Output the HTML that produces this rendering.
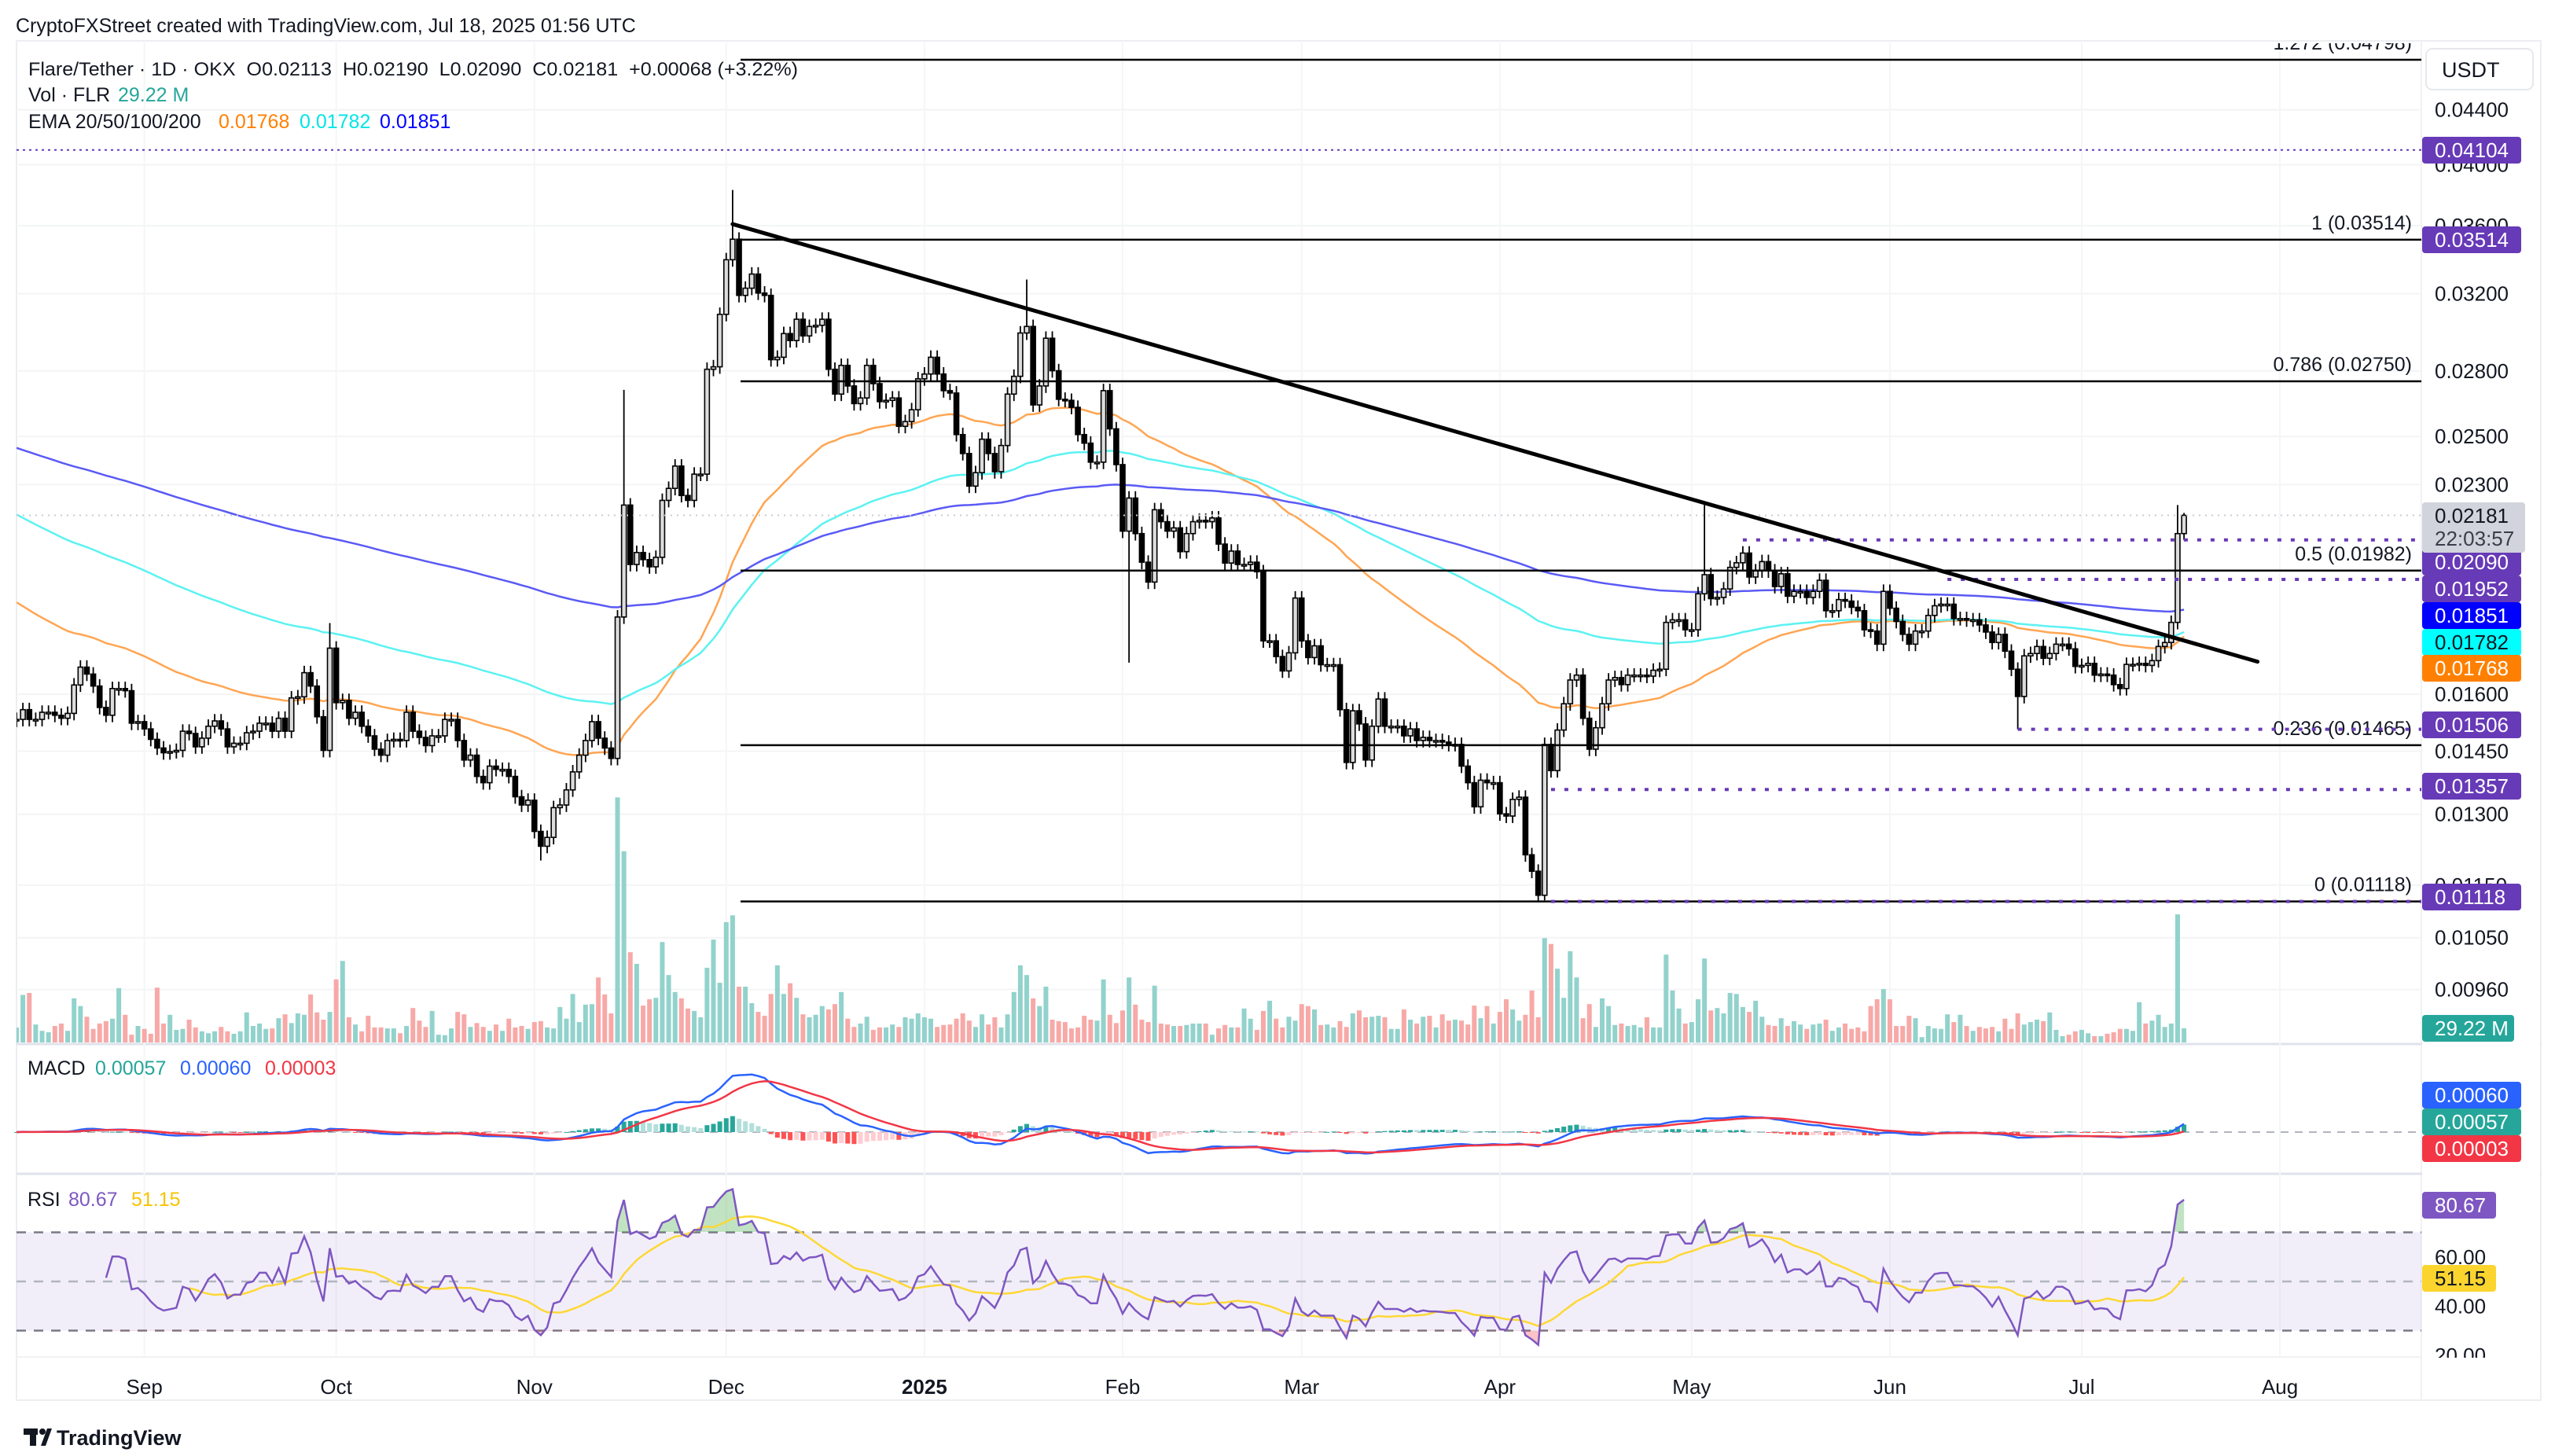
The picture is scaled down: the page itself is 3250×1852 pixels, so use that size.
<!DOCTYPE html>
<html><head><meta charset="utf-8"><title>Flare/Tether 1D chart</title>
<style>
html,body{margin:0;padding:0;background:#fff;}
svg{display:block;font-family:"Liberation Sans",sans-serif;}
</style></head>
<body>
<svg id="chart" width="3250" height="1852" viewBox="0 0 3250 1852" xmlns="http://www.w3.org/2000/svg">
<defs>
<clipPath id="mainClip"><rect x="21" y="55" width="3059" height="1271"/></clipPath>
<clipPath id="rsiClip"><rect x="21" y="1494" width="3059" height="231"/></clipPath>
<clipPath id="obClip"><rect x="21" y="1494" width="3059" height="73"/></clipPath>
<clipPath id="osClip"><rect x="21" y="1692" width="3059" height="40"/></clipPath>
</defs>
<rect x="0" y="0" width="3250" height="1852" fill="#fff"/>
<text x="20" y="41" font-size="25" fill="#131722">CryptoFXStreet created with TradingView.com, Jul 18, 2025 01:56 UTC</text>
<rect x="21" y="52" width="3211" height="1729" fill="none" stroke="#eceef2" stroke-width="2"/>
<line x1="3080" y1="52" x2="3080" y2="1781" stroke="#f0f1f4" stroke-width="2"/>
<line x1="21" y1="1726" x2="3232" y2="1726" stroke="#f0f1f4" stroke-width="2"/>
<line x1="21" y1="1328" x2="3232" y2="1328" stroke="#e0e3eb" stroke-width="3"/>
<line x1="21" y1="1493" x2="3232" y2="1493" stroke="#e0e3eb" stroke-width="3"/>
<g id="grid"></g>
<g id="rsiBg"></g>
<g id="main" clip-path="url(#mainClip)"></g>
<g id="macd"></g>
<g id="rsi"></g>
<g id="axis"></g>
<g id="legend">
<text x="36" y="96" font-size="24" fill="#131722" xml:space="preserve" textLength="979" lengthAdjust="spacingAndGlyphs">Flare/Tether · 1D · OKX  O0.02113  H0.02190  L0.02090  C0.02181  +0.00068 (+3.22%)</text>
<text x="36" y="129" font-size="25" fill="#131722">Vol · FLR</text>
<text x="150" y="129" font-size="25" fill="#26a69a">29.22 M</text>
<text x="36" y="163" font-size="25" fill="#131722">EMA 20/50/100/200</text>
<text x="278" y="163" font-size="25" fill="#ff8000">0.01768</text>
<text x="381" y="163" font-size="25" fill="#00e5e5">0.01782</text>
<text x="483" y="163" font-size="25" fill="#0000ff">0.01851</text>
<text x="35" y="1367" font-size="25" fill="#131722">MACD</text>
<text x="121" y="1367" font-size="25" fill="#26a69a">0.00057</text>
<text x="229" y="1367" font-size="25" fill="#2962ff">0.00060</text>
<text x="337" y="1367" font-size="25" fill="#f23645">0.00003</text>
<text x="35" y="1534" font-size="25" fill="#131722">RSI</text>
<text x="87" y="1534" font-size="25" fill="#7e57c2">80.67</text>
<text x="167" y="1534" font-size="25" fill="#f5c400">51.15</text>
</g>
<g id="footer">
<rect x="30" y="1817" width="18" height="8" fill="#131722"/>
<rect x="38" y="1817" width="8" height="22" fill="#131722"/>
<circle cx="54" cy="1821" r="4" fill="#131722"/>
<polygon points="52,1839 60,1817 66,1817 58,1839" fill="#131722"/>
<text x="72" y="1838" font-size="27" font-weight="bold" fill="#131722">TradingView</text>
</g>
</svg>
<script>
const closes=[0.01532,0.01558,0.01532,0.01532,0.01551,0.01551,0.01543,0.01535,0.01548,0.01626,
0.01677,0.01657,0.01623,0.01564,0.01543,0.01616,0.01616,0.0161,0.01522,0.01526,
0.01507,0.0148,0.01458,0.01446,0.01449,0.01452,0.01501,0.01495,0.01461,0.01483,
0.01514,0.01528,0.01507,0.01461,0.0147,0.0147,0.01497,0.01501,0.01522,0.01522,
0.01501,0.01535,0.01501,0.0159,0.01593,0.01661,0.01623,0.01539,0.01452,0.01733,
0.01577,0.01583,0.01535,0.01551,0.01514,0.01489,0.01455,0.0144,0.01477,0.0148,
0.01477,0.01551,0.01501,0.01485,0.01464,0.01489,0.01489,0.01532,0.01532,0.01477,
0.01428,0.0144,0.01388,0.01373,0.01413,0.01405,0.01405,0.01388,0.0134,0.01321,
0.01332,0.01262,0.0123,0.01249,0.01315,0.01321,0.01356,0.01399,0.0144,0.01477,
0.01526,0.01483,0.01458,0.01432,0.01829,0.0222,0.02003,0.02045,0.0202,0.01995,
0.02028,0.02238,0.02285,0.02375,0.02257,0.02238,0.02342,0.02342,0.02808,0.0282,
0.03088,0.03394,0.03517,0.03191,0.03231,0.03311,0.03204,0.03191,0.02855,0.02867,
0.02987,0.02951,0.03062,0.02975,0.03024,0.0303,0.03062,0.02808,0.0269,0.02827,
0.02728,0.02646,0.02672,0.02827,0.02739,0.02655,0.02661,0.02672,0.02544,0.02565,
0.02618,0.02762,0.02785,0.02867,0.02785,0.02706,0.02695,0.02508,0.02427,0.02294,
0.02348,0.02488,0.02427,0.02352,0.02461,0.0269,0.02774,0.0299,0.03024,0.0264,
0.02728,0.02963,0.02801,0.02666,0.02661,0.02629,0.02508,0.02471,0.02391,0.02391,
0.02706,0.02533,0.02381,0.02122,0.02247,0.02113,0.02011,0.01943,0.02202,0.02157,
0.02122,0.02134,0.02048,0.02113,0.02157,0.02162,0.02157,0.02171,0.02075,0.02008,
0.0205,0.02003,0.02003,0.02011,0.01978,0.01755,0.01755,0.01708,0.01666,0.01719,
0.0189,0.01755,0.01705,0.0174,0.01684,0.01684,0.01684,0.01558,0.01422,0.01555,
0.0152,0.01428,0.01514,0.01587,0.01514,0.01514,0.01514,0.01489,0.01507,0.01477,
0.01485,0.01477,0.01477,0.01473,0.01467,0.01467,0.01413,0.01373,0.01317,0.01379,
0.01373,0.01373,0.01301,0.01296,0.01334,0.01339,0.01212,0.01178,0.0113,0.01467,
0.01402,0.01504,0.01574,0.0164,0.01654,0.01535,0.01455,0.0151,0.01574,0.0164,
0.01647,0.01627,0.01654,0.01654,0.01654,0.01651,0.01668,0.01671,0.01812,0.0182,
0.0182,0.01789,0.01789,0.01904,0.01968,0.01888,0.01892,0.0192,0.01993,0.02009,
0.02043,0.0196,0.01981,0.02013,0.01981,0.01928,0.01971,0.01896,0.01912,0.01912,
0.01892,0.01912,0.01949,0.01849,0.01849,0.01885,0.0188,0.0186,0.01849,0.01789,
0.01785,0.01745,0.01912,0.01857,0.01815,0.01775,0.01745,0.01785,0.01785,0.01834,
0.01865,0.0187,0.0187,0.01824,0.01824,0.0182,0.0182,0.01804,0.01782,0.0175,
0.01775,0.01724,0.01671,0.01594,0.0171,0.01717,0.01738,0.01703,0.01717,0.01745,
0.01745,0.01731,0.01679,0.01682,0.01688,0.01654,0.01657,0.01654,0.01627,0.01616,
0.01685,0.01685,0.01688,0.01682,0.01696,0.01738,0.0175,0.01812,0.02113,0.02181];
const firstOpen=0.0153;
const volumes=[30.8,98,102,37,24,21,34,39,24,91,
75,53,28,39,44,49,112,57,16,34,
28,18,113,39,57,26,28,47,31,23,
19,23,32,23,18,23,62,34,39,28,
29,50,58,40,60,57,99,62,47,63,
130,168,52,37,23,55,31,31,29,29,
19,34,71,45,32,65,16,15,29,63,
58,32,40,32,24,37,24,49,31,34,
28,42,44,31,29,73,49,100,42,78,
79,134,99,60,505,394,186,162,76,89,
92,207,139,104,91,70,65,52,154,212,
123,248,262,115,115,81,63,55,100,159,
100,122,92,58,52,57,75,68,79,104,
49,32,39,53,26,31,31,37,32,52,
49,60,52,49,32,36,37,49,60,45,
32,58,37,52,31,58,104,159,139,91,
75,115,47,44,42,29,31,55,47,45,
130,57,
40,66,134,78,47,42,117,39,37,34,
34,36,39,39,39,16,29,36,31,31,
70,49,26,65,86,49,31,53,45,79,
75,68,36,37,31,44,32,60,66,52,
53,55,52,28,28,68,47,39,53,55,
31,58,45,47,45,37,76,50,75,39,
63,89,68,45,57,107,52,215,203,152,
92,188,134,50,79,32,91,75,36,39,
34,36,31,52,31,31,181,107,70,39,
42,89,173,66,71,60,102,100,73,63,
86,53,36,34,50,34,44,37,28,37,
39,47,24,31,39,28,31,23,75,89,
110,89,34,34,55,50,11,34,29,28,
58,42,57,34,24,32,29,32,23,49,
28,60,37,42,47,44,62,26,13,16,
23,26,19,13,13,18,21,28,28,24,
83,39,45,57,32,39,264,29.22];
const highIdx=[49,95,112,158,264,338,339];
const highVal=[0.0181,0.0271,0.0383,0.0328,0.0222,0.0222,0.0219];
const lowIdx=[82,174,238,239,313,339];
const lowVal=[0.0120,0.0169,0.01118,0.0112,0.01506,0.0209];
const emaSeeds=[0.0189,0.02197,0.0246];
const fibLevels=[1.272,1,0.786,0.5,0.236,0];
const fibPrices=[0.04798,0.03514,0.0275,0.01982,0.01465,0.01118];
const dottedPrices=[0.04104,0.0209,0.01952,0.01506,0.01357,0.01118];
const dottedStart=[0,270,302,313,240,240];
const trendIdx=[112,350.5];
const trendPrice=[0.0361,0.01693];
const priceTicks=[0.044,0.04,0.036,0.032,0.028,0.025,0.023,0.016,0.0145,0.013,0.0115,0.0105,0.0096];
const monthLabels=["Sep","Oct","Nov","Dec","2025","Feb","Mar","Apr","May","Jun","Jul","Aug"];
const monthIdx=[20,50,81,111,142,173,201,232,262,293,323,354];
const rsiTicks=[60,40,20];

const NS="http://www.w3.org/2000/svg";
const X0=21,STEP=8.133;
function xOf(i){return X0+i*STEP;}
function yP(p){return 139.6+Math.log(0.044/p)*735;}
function yVol(v){return 1326-v/1.62;}
function yMacd(v){return 1440-v*17000;}
function yRsi(v){return 1630-(v-50)*3.125;}
function mk(tag,attrs,parent){const e=document.createElementNS(NS,tag);for(const k in attrs)e.setAttribute(k,attrs[k]);parent.appendChild(e);return e;}

const main=document.getElementById('main');
const grid=document.getElementById('grid');
const axis=document.getElementById('axis');
const macdG=document.getElementById('macd');
const rsiG=document.getElementById('rsi');
const rsiBg=document.getElementById('rsiBg');
const n=closes.length;

for(const t of priceTicks){
  const g=mk('line',{x1:21,x2:3080,y1:yP(t),y2:yP(t),stroke:'#f3f4f6','stroke-width':2},grid);
  
  
}
for(let k=0;k<monthIdx.length;k++){
  const x=xOf(monthIdx[k]);
  if(x>3080)continue;
  const g=mk('line',{x1:x,x2:x,y1:52,y2:1726,stroke:'#f5f6f8','stroke-width':2},grid);
  
  
}

const opens=[],highs=[],lows=[];
for(let i=0;i<n;i++){
  const o=i===0?firstOpen:closes[i-1];
  opens.push(o);
  highs.push(Math.max(o,closes[i])*1.012);
  lows.push(Math.min(o,closes[i])*0.988);
}
for(let k=0;k<highIdx.length;k++)highs[highIdx[k]]=highVal[k];
for(let k=0;k<lowIdx.length;k++)lows[lowIdx[k]]=lowVal[k];

for(let i=0;i<n;i++){
  const up=closes[i]>=opens[i];
  const y=yVol(volumes[i]);
  const b=mk('rect',{x:xOf(i)-3,y:y,width:6,height:1326-y,fill:up?'#92d2cc':'#f7a9a7'},main);
  
  
}

function ema(period,seed){const k=2/(period+1);let e=seed;const out=[];for(let i=0;i<n;i++){e=closes[i]*k+e*(1-k);out.push(e);}return out;}
const emaDefs=[[50,emaSeeds[0],'#ffa552','ema-50-line'],[100,emaSeeds[1],'#5cf2f2','ema-100-line'],[200,emaSeeds[2],'#5a5af5','ema-200-line']];
for(const d of emaDefs){
  const v=ema(d[0],d[1]);
  const pts=v.map((p,i)=>xOf(i).toFixed(1)+','+yP(p).toFixed(1)).join(' ');
  const l=mk('polyline',{points:pts,fill:'none',stroke:d[2],'stroke-width':2.5},main);
  
  
}

for(let i=0;i<n;i++){
  const x=xOf(i),o=opens[i],c=closes[i],up=c>=o;
  const g=mk('g',{},main);
  
  
  mk('line',{x1:x,x2:x,y1:yP(highs[i]),y2:yP(lows[i]),stroke:'#000','stroke-width':1.8},g);
  const t=yP(Math.max(o,c)),b=yP(Math.min(o,c));
  mk('rect',{x:x-3,y:t,width:6,height:Math.max(b-t,2),fill:up?'#dcdcdc':'#000',stroke:'#000','stroke-width':1.6},g);
}

const cp=mk('line',{x1:21,x2:3080,y1:yP(closes[n-1]),y2:yP(closes[n-1]),stroke:'#c8cbd3','stroke-width':2,'stroke-dasharray':'2 6'},main);



for(let k=0;k<fibLevels.length;k++){
  const y=yP(fibPrices[k]);
  const l=mk('line',{x1:942,x2:3080,y1:y,y2:y,stroke:'#000','stroke-width':2.5},main);
  
  
  const t=mk('text',{x:3068,y:y-13,'font-size':25,'text-anchor':'end',fill:'#131722'},main);
  
  
  t.textContent=fibLevels[k]+' ('+fibPrices[k].toFixed(5)+')';
}

for(let k=0;k<dottedPrices.length;k++){
  const y=yP(dottedPrices[k]);
  const x1=dottedStart[k]===0?21:xOf(dottedStart[k]);
  const l=mk('line',{x1:x1,x2:3080,y1:y,y2:y,stroke:'#673ab7','stroke-width':dottedStart[k]===0?2:4,'stroke-dasharray':dottedStart[k]===0?'3 5':'5 12'},main);
  
  
}

const tl=mk('line',{x1:xOf(trendIdx[0]),y1:yP(trendPrice[0]),x2:xOf(trendIdx[1]),y2:yP(trendPrice[1]),stroke:'#000','stroke-width':5,'stroke-linecap':'round'},main);



function emaArr(arr,period,seed){const k=2/(period+1);let e=seed;return arr.map(v=>{e=v*k+e*(1-k);return e;});}
const e12=emaArr(closes,12,closes[0]),e26=emaArr(closes,26,closes[0]);
const macd=e12.map((v,i)=>v-e26[i]);
const sig=emaArr(macd,9,0);
const zl=mk('line',{x1:21,x2:3080,y1:1440,y2:1440,stroke:'#b2b5be','stroke-width':2,'stroke-dasharray':'10 8'},macdG);


for(let i=0;i<n;i++){
  const h=macd[i]-sig[i],ph=i?macd[i-1]-sig[i-1]:0;
  const col=h>=0?(h>=ph?'#26a69a':'#b2dfdb'):(h<ph?'#ff5252':'#ffcdd2');
  const y=yMacd(h);
  const r=mk('rect',{x:xOf(i)-3,y:Math.min(y,1440),width:6,height:Math.max(Math.abs(y-1440),1),fill:col},macdG);
  
  
}
const ml=mk('polyline',{points:macd.map((v,i)=>xOf(i).toFixed(1)+','+yMacd(v).toFixed(1)).join(' '),fill:'none',stroke:'#2962ff','stroke-width':2.5},macdG);


const sl=mk('polyline',{points:sig.map((v,i)=>xOf(i).toFixed(1)+','+yMacd(v).toFixed(1)).join(' '),fill:'none',stroke:'#f23645','stroke-width':2.5},macdG);



const band=mk('rect',{x:21,y:yRsi(70),width:3059,height:yRsi(30)-yRsi(70),fill:'rgba(126,87,194,0.1)'},rsiBg);


for(const lv of [70,50,30]){
  const l=mk('line',{x1:21,x2:3080,y1:yRsi(lv),y2:yRsi(lv),stroke:lv===50?'#b2b5be':'#787b86','stroke-width':2.5,'stroke-dasharray':'12 10'},rsiBg);
  
  
}
const rsi=[];let ag=0,al=0;
for(let i=1;i<n;i++){
  const d=closes[i]-closes[i-1];const g=Math.max(d,0),l=Math.max(-d,0);
  if(i<=14){ag+=g/14;al+=l/14;if(i<14){rsi[i]=null;continue;}}
  else{ag=(ag*13+g)/14;al=(al*13+l)/14;}
  rsi[i]=al===0?100:100-100/(1+ag/al);
}
const rsiMa=[];
for(let i=0;i<n;i++){let s=0,c=0;for(let j=Math.max(0,i-13);j<=i;j++){if(rsi[j]!=null){s+=rsi[j];c++;}}rsiMa.push(c===14?s/c:null);}
const rpts=[];for(let i=0;i<n;i++)if(rsi[i]!=null)rpts.push([xOf(i),yRsi(rsi[i])]);
const areaD='M'+rpts[0][0]+','+yRsi(70)+' '+rpts.map(p=>'L'+p[0].toFixed(1)+','+p[1].toFixed(1)).join(' ')+' L'+rpts[rpts.length-1][0]+','+yRsi(70)+'Z';
const ob=mk('path',{d:areaD,fill:'rgba(76,175,80,0.35)','clip-path':'url(#obClip)'},rsiG);


const areaD2='M'+rpts[0][0]+','+yRsi(30)+' '+rpts.map(p=>'L'+p[0].toFixed(1)+','+p[1].toFixed(1)).join(' ')+' L'+rpts[rpts.length-1][0]+','+yRsi(30)+'Z';
const os=mk('path',{d:areaD2,fill:'rgba(242,54,69,0.3)','clip-path':'url(#osClip)'},rsiG);


const mpts=[];for(let i=0;i<n;i++)if(rsiMa[i]!=null)mpts.push(xOf(i).toFixed(1)+','+yRsi(rsiMa[i]).toFixed(1));
const rm=mk('polyline',{points:mpts.join(' '),fill:'none',stroke:'#fdd835','stroke-width':2.5,'clip-path':'url(#rsiClip)'},rsiG);


const rl=mk('polyline',{points:rpts.map(p=>p[0].toFixed(1)+','+p[1].toFixed(1)).join(' '),fill:'none',stroke:'#7e57c2','stroke-width':2.5,'clip-path':'url(#rsiClip)'},rsiG);



const ab=mk('rect',{x:3081,y:53,width:150,height:1727,fill:'#fff'},axis);


const ub=mk('rect',{x:3086,y:62,width:136,height:52,rx:8,fill:'#fff',stroke:'#e6e8ec','stroke-width':2},axis);


const ut=mk('text',{x:3106,y:98,'font-size':27,fill:'#131722'},axis);


ut.textContent='USDT';
for(const t of priceTicks){
  const tx=mk('text',{x:3097,y:yP(t)+9,'font-size':26,fill:'#131722'},axis);
  
  
  tx.textContent=t.toFixed(5);
}
for(const t of rsiTicks){
  const tx=mk('text',{x:3097,y:yRsi(t)+9,'font-size':26,fill:'#131722'},axis);
  
  
  tx.textContent=t.toFixed(2);
}
const cover=mk('rect',{x:3081,y:1727,width:150,height:53,fill:'#fff'},axis);


const boxes=[
 ['0.04104',191,'#673ab7','#fff',126],['0.03514',305,'#673ab7','#fff',126],
 ['0.02090',715,'#673ab7','#fff',126],['0.01952',749,'#673ab7','#fff',126],
 ['0.01851',783,'#0000ff','#fff',126],['0.01782',817,'#00ffff','#131722',126],
 ['0.01768',850,'#ff8000','#fff',126],['0.01506',922,'#673ab7','#fff',126],
 ['0.01357',1000,'#673ab7','#fff',126],['0.01118',1141,'#673ab7','#fff',126],
 ['29.22 M',1308,'#26a69a','#fff',117],
 ['0.00060',1393,'#2962ff','#fff',126],['0.00057',1427,'#26a69a','#fff',126],['0.00003',1461,'#f23645','#fff',126],
 ['80.67',1533,'#7e57c2','#fff',94],['51.15',1626,'#fbd52e','#131722',94]];
for(const b of boxes){
  const r=mk('rect',{x:3081,y:b[1]-17,width:b[4],height:34,rx:4,fill:b[2]},axis);
  
  
  const t=mk('text',{x:3097,y:b[1]+9,'font-size':26,fill:b[3]},axis);
  
  
  t.textContent=b[0];
}
const pb=mk('rect',{x:3081,y:639,width:131,height:64,rx:4,fill:'#d1d4dc'},axis);


const pt=mk('text',{x:3097,y:665,'font-size':26,fill:'#131722'},axis);


pt.textContent='0.02181';
const ct=mk('text',{x:3097,y:694,'font-size':26,fill:'#3a3e4a'},axis);


ct.textContent='22:03:57';

for(let k=0;k<monthLabels.length;k++){
  const t=mk('text',{x:xOf(monthIdx[k]),y:1773,'font-size':26,'text-anchor':'middle',fill:'#131722','font-weight':monthLabels[k]==='2025'?'bold':'normal'},axis);
  
  
  t.textContent=monthLabels[k];
}
</script>
</body></html>
